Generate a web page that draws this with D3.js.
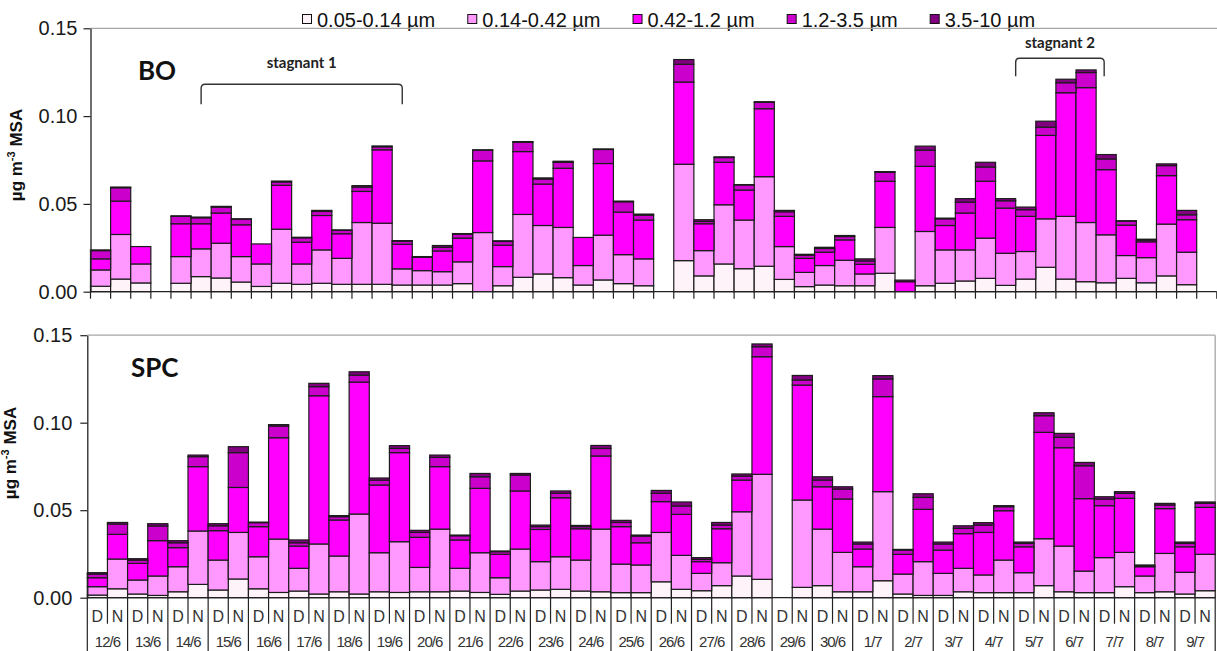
<!DOCTYPE html>
<html>
<head>
<meta charset="utf-8">
<script src="https://cdn.jsdelivr.net/npm/d3@7"></script>
<style>
  body { margin: 0; background: #fff; }
  svg { display: block; }
</style>
</head>
<body>
<svg id="chart" width="1217" height="651"></svg>
<script>
// Sampling days (day / night filters) and aerosol size classes
const days = ["12/6","13/6","14/6","15/6","16/6","17/6","18/6","19/6","20/6","21/6",
              "22/6","23/6","24/6","25/6","26/6","27/6","28/6","29/6","30/6","1/7",
              "2/7","3/7","4/7","5/7","6/7","7/7","8/7","9/7"];
const periods = ["D", "N"];
const sizeClasses = ["0.05-0.14 µm", "0.14-0.42 µm", "0.42-1.2 µm", "1.2-3.5 µm", "3.5-10 µm"];
const yTicks = [0, 0.05, 0.10, 0.15];

// MSA mass per size class, µg m-3 (one value per D/N sample, null = no sample) — BO site
const boFine1 = [.0031,.0072,.0050,null,.0048,.0086,.0078,.0055,.0030,.0048,.0042,.0048,.0042,.0042,
                 .0042,.0038,.0038,.0038,.0046,0,.0034,.0082,.0101,.0080,.0038,.0067,.0046,.0034,
                 null,.0177,.0090,.0158,.0131,.0145,.0070,.0029,.0038,.0034,.0034,.0105,0,.0034,
                 .0048,.0061,.0076,.0036,.0072,.0139,.0072,.0057,.0051,.0076,.0051,.0090,.0040,null];
const boFine2 = [.0093,.0254,.0108,null,.0152,.0158,.0198,.0145,.0128,.0308,.0116,.0190,.0148,.0352,
                 .0348,.0092,.0082,.0076,.0124,.0337,.0109,.0358,.0276,.0286,.0111,.0255,.0165,.0153,
                 null,.0549,.0144,.0337,.0277,.0510,.0187,.0081,.0111,.0145,.0067,.0261,0,.0309,
                 .0190,.0177,.0229,.0183,.0157,.0276,.0357,.0337,.0273,.0130,.0143,.0295,.0185,null];
const boAcc    = [.0063,.0190,.0099,null,.0187,.0143,.0172,.0181,.0114,.0250,.0124,.0196,.0140,.0177,
                 .0418,.0140,.0076,.0118,.0135,.0408,.0122,.0358,.0236,.0337,.0160,.0408,.0242,.0221,
                 null,.0468,.0153,.0242,.0171,.0387,.0172,.0080,.0076,.0116,.0055,.0263,.0057,.0371,
                 .0139,.0210,.0324,.0257,.0200,.0475,.0704,.0768,.0371,.0173,.0090,.0276,.0185,null];
const boCoarse1 = [.0047,.0076,0,null,.0042,.0034,.0034,.0032,0,.0019,.0025,.0023,.0019,.0025,
                 .0017,.0018,0,.0021,.0023,.0061,.0021,.0053,.0029,.0034,0,.0080,.0059,.0028,
                 null,.0101,.0013,.0027,.0029,.0036,.0026,.0018,.0021,.0019,.0019,.0051,0,.0092,
                 .0038,.0062,.0081,.0042,.0038,.0047,.0057,.0086,.0061,.0023,.0010,.0057,.0028,null];
const boCoarse2 = [.0004,.0004,0,null,.0003,.0004,.0004,.0002,0,.0005,.0003,.0006,.0003,.0008,
                 .0005,.0003,.0004,.0010,.0003,.0002,.0004,.0004,.0006,.0006,0,.0003,.0004,.0006,
                 null,.0027,.0010,.0004,.0002,.0004,.0008,.0005,.0007,.0006,.0012,.0004,.0009,.0023,
                 .0004,.0020,.0027,.0012,.0015,.0034,.0020,.0015,.0025,.0002,.0005,.0010,.0025,null];

// MSA mass per size class, µg m-3 — SPC site
const spcFine1 = [.0015,.0051,.0021,.0013,.0034,.0076,.0044,.0107,.0051,.0030,.0038,.0021,.0034,.0021,
                  .0034,.0030,.0034,.0034,.0038,.0030,.0019,.0038,.0044,.0048,.0038,.0034,.0029,.0029,
                  .0091,.0048,.0040,.0069,.0124,.0105,null,.0059,.0069,.0034,.0034,.0097,.0021,.0013,
                  .0013,.0034,.0029,.0029,.0029,.0069,.0034,.0029,.0029,.0063,.0029,.0034,.0021,.0040];
const spcFine2 = [.0048,.0170,.0080,.0111,.0143,.0305,.0171,.0266,.0183,.0305,.0130,.0286,.0204,.0457,
                  .0223,.0290,.0139,.0358,.0130,.0227,.0095,.0240,.0162,.0186,.0177,.0358,.0163,.0158,
                  .0282,.0194,.0099,.0131,.0367,.0600,null,.0499,.0323,.0225,.0143,.0509,.0114,.0193,
                  .0126,.0134,.0101,.0186,.0114,.0268,.0261,.0123,.0200,.0196,.0095,.0219,.0124,.0208];
const spcAcc    = [.0051,.0141,.0095,.0202,.0109,.0368,.0168,.0257,.0172,.0579,.0127,.0847,.0206,.0754,
                  .0387,.0509,.0172,.0357,.0162,.0368,.0134,.0332,.0184,.0337,.0179,.0418,.0214,.0127,
                  .0176,.0234,.0067,.0194,.0181,.0672,null,.0657,.0242,.0305,.0101,.0543,.0113,.0299,
                  .0133,.0198,.0243,.0282,.0148,.0608,.0562,.0414,.0297,.0309,.0053,.0256,.0146,.0268];
const spcCoarse1 = [.0021,.0059,.0019,.0084,.0028,.0057,.0028,.0199,.0023,.0067,.0019,.0052,.0019,.0040,
                  .0028,.0024,.0028,.0053,.0024,.0066,.0015,.0091,.0016,.0025,.0012,.0043,.0024,.0038,
                  .0047,.0048,.0013,.0021,.0023,.0057,null,.0029,.0038,.0057,.0029,.0101,.0024,.0068,
                  .0035,.0030,.0042,.0023,.0019,.0095,.0059,.0188,.0038,.0028,.0004,.0021,.0019,.0023];
const spcCoarse2 = [.0008,.0009,.0008,.0013,.0012,.0009,.0012,.0034,.0003,.0008,.0016,.0019,.0006,.0019,
                  .0012,.0016,.0012,.0013,.0004,.0019,.0004,.0009,.0009,.0014,.0007,.0017,.0012,.0006,
                  .0017,.0023,.0010,.0015,.0012,.0016,null,.0026,.0019,.0013,.0011,.0019,.0004,.0021,
                  .0011,.0015,.0014,.0006,.0008,.0017,.0023,.0019,.0013,.0010,.0006,.0009,.0008,.0008];

// Stagnation periods marked on the BO panel: [first sample, last sample]
const stagnantLabels = ["stagnant 1", "stagnant 2"];
const stagnantSpans = [["14/6 N", "19/6 N"], ["5/7 D", "7/7 D"]];

// ---------- styling / layout ----------
const classColors = ["#FFF3FA", "#FF99FF", "#FF00FF", "#CC00CC", "#800080"];
const sansFont = "'Liberation Sans', Arial, sans-serif";
const titleFont = "Lato, 'Open Sans', sans-serif";

const slots = days.flatMap(d => periods.map(p => `${d} ${p}`));

const panels = [
  { name: "BO",  series: [boFine1, boFine2, boAcc, boCoarse1, boCoarse2],
    left: 90.5, right: 1216.8, top: 28.3, base: 291.7, rightBorder: false,
    labelPos: [138, 80], yTitle: [22, 155], tickPad: 6, showCategories: false },
  { name: "SPC", series: [spcFine1, spcFine2, spcAcc, spcCoarse1, spcCoarse2],
    left: 87.3, right: 1215.2, top: 335.2, base: 597.7, rightBorder: true,
    labelPos: [131, 377], yTitle: [16, 453], tickPad: 8, showCategories: true }
];

const svg = d3.select("#chart");

// ---------- legend ----------
const legend = svg.append("g").attr("class", "legend");
let lx = 302;
sizeClasses.forEach((c, k) => {
  const item = legend.append("g");
  item.append("rect").attr("x", lx + 0.5).attr("y", 14.5).attr("width", 9).attr("height", 9)
    .attr("fill", classColors[k]).attr("stroke", "#111").attr("stroke-width", 1);
  const t = item.append("text").attr("x", lx + 15).attr("y", 26.5)
    .attr("font-family", sansFont).attr("font-size", 20).attr("fill", "#111").text(c);
  lx += 15 + t.node().getComputedTextLength() + 32;
});

// ---------- panels ----------
panels.forEach(p => {
  const g = svg.append("g").attr("class", "panel");
  const x = d3.scaleBand().domain(slots).range([p.left, p.right]).paddingInner(0).paddingOuter(0);
  const y = d3.scaleLinear().domain([0, 0.15]).range([p.base, p.top]);
  const bw = x.bandwidth();

  // plot-area frame (grey)
  g.append("line").attr("x1", p.left).attr("x2", p.right + (p.rightBorder ? 0 : 2))
    .attr("y1", y(0.15)).attr("y2", y(0.15)).attr("stroke", "#a6a6a6").attr("stroke-width", 1.3);
  if (p.rightBorder) {
    g.append("line").attr("x1", p.right).attr("x2", p.right).attr("y1", y(0.15)).attr("y2", y(0))
      .attr("stroke", "#a6a6a6").attr("stroke-width", 1.3);
  }

  // stacked bars
  const rows = slots.map((s, i) => {
    const r = { slot: s, missing: p.series[0][i] == null };
    sizeClasses.forEach((c, k) => { r[c] = p.series[k][i] ?? 0; });
    return r;
  });
  const layers = d3.stack().keys(sizeClasses)(rows);
  layers.forEach((layer, k) => {
    g.append("g").selectAll("rect")
      .data(layer.filter(d => !d.data.missing && d[1] - d[0] > 0))
      .join("rect")
      .attr("x", d => x(d.data.slot))
      .attr("width", bw)
      .attr("y", d => y(d[1]))
      .attr("height", d => y(d[0]) - y(d[1]))
      .attr("fill", classColors[k])
      .attr("stroke", "#1c1c1c")
      .attr("stroke-width", 1.2);
  });

  // y axis
  const ya = g.append("g").attr("transform", `translate(${p.left},0)`)
    .call(d3.axisLeft(y).tickValues(yTicks).tickFormat(d3.format(".2f"))
      .tickSize(7).tickSizeOuter(0).tickPadding(p.tickPad));
  ya.select(".domain").attr("stroke", "#222").attr("stroke-width", 1.3);
  ya.selectAll(".tick line").attr("stroke", "#222").attr("stroke-width", 1.2);
  ya.selectAll(".tick text").attr("font-family", sansFont).attr("font-size", 20).attr("fill", "#1a1a1a");

  // y title
  const yt = g.append("text")
    .attr("transform", `translate(${p.yTitle[0]},${p.yTitle[1]}) rotate(-90)`)
    .attr("text-anchor", "middle").attr("font-family", sansFont).attr("font-weight", "bold")
    .attr("font-size", 17).attr("fill", "#111");
  yt.append("tspan").text("µg m");
  yt.append("tspan").attr("font-size", 11).attr("dy", -7).text("-3");
  yt.append("tspan").attr("dy", 7).text(" MSA");

  // site label
  g.append("text").attr("x", p.labelPos[0]).attr("y", p.labelPos[1])
    .attr("font-family", titleFont).attr("font-weight", "bold").attr("font-size", 26)
    .attr("fill", "#111").text(p.name);

  // category axis: baseline and separators at every sample boundary
  g.append("line").attr("x1", p.left).attr("x2", p.right).attr("y1", y(0)).attr("y2", y(0))
    .attr("stroke", "#222").attr("stroke-width", 1.3);
  const bounds = d3.range(slots.length + 1);
  g.append("g").selectAll("line").data(bounds).join("line")
    .attr("x1", i => p.left + i * bw).attr("x2", i => p.left + i * bw)
    .attr("y1", y(0))
    .attr("y2", i => !p.showCategories ? y(0) + 7 : (i % 2 === 0 ? 651 : y(0) + 26))
    .attr("stroke", "#222").attr("stroke-width", 1.2);

  if (p.showCategories) {
    g.append("g").selectAll("text").data(slots).join("text")
      .attr("x", s => x(s) + bw / 2).attr("y", y(0) + 24.5)
      .attr("text-anchor", "middle").attr("font-family", sansFont).attr("font-size", 16)
      .attr("fill", "#333").text(s => s.split(" ")[1]);
    g.append("g").selectAll("text").data(days).join("text")
      .attr("x", d => x(`${d} D`) + bw).attr("y", y(0) + 49.5)
      .attr("text-anchor", "middle").attr("font-family", sansFont).attr("font-size", 15)
      .attr("letter-spacing", -1).attr("fill", "#333").text(d => d);
  } else {
    // stagnation brackets
    const bracketTops = [84.3, 58.3];
    const legLen = [20, 18];
    const labelGap = [16, 10];
    const endFrac = [0.5, 0.4];
    const startFrac = [0.5, 0];
    stagnantSpans.forEach((span, j) => {
      const x1 = x(span[0]) + bw * startFrac[j];
      const x2 = x(span[1]) + bw * endFrac[j];
      const yt0 = bracketTops[j], yb = yt0 + legLen[j], r = 4;
      g.append("path")
        .attr("d", `M${x1},${yb} L${x1},${yt0 + r} Q${x1},${yt0} ${x1 + r},${yt0} L${x2 - r},${yt0} Q${x2},${yt0} ${x2},${yt0 + r} L${x2},${yb}`)
        .attr("fill", "none").attr("stroke", "#333").attr("stroke-width", 1.4);
      g.append("text").attr("x", (x1 + x2) / 2).attr("y", yt0 - labelGap[j])
        .attr("text-anchor", "middle").attr("font-family", titleFont).attr("font-weight", "bold")
        .attr("font-size", 15).attr("fill", "#222").text(stagnantLabels[j]);
    });
  }
});
</script>
</body>
</html>
